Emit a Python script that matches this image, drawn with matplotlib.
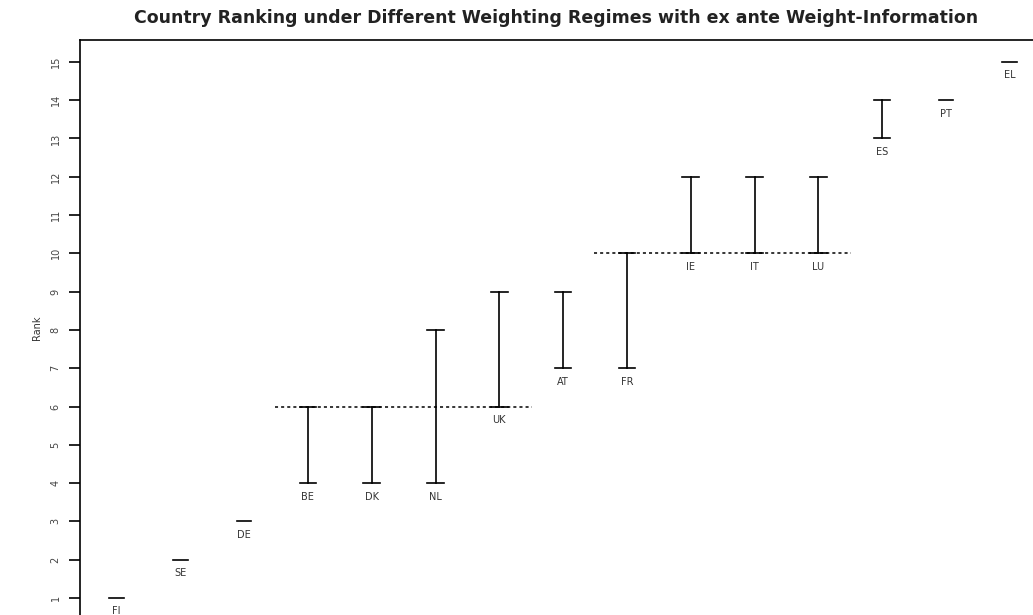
import numpy as np
import matplotlib.pyplot as plt

# Rank ranges per country (best and worst rank across weighting regimes)
countries = ["FI", "SE", "DE", "BE", "DK", "NL", "UK", "AT", "FR",
             "IE", "IT", "LU", "ES", "PT", "EL"]
rank_low = [1, 2, 3, 4, 4, 4, 6, 7, 7, 10, 10, 10, 13, 14, 15]
rank_high = [1, 2, 3, 6, 6, 8, 9, 9, 10, 12, 12, 12, 14, 14, 15]

# dotted reference lines: (level, first country, last country)
groups = [(6, "BE", "UK"), (10, "FR", "LU")]

fig = plt.figure(figsize=(10.33, 6.15), dpi=100)
ax = fig.add_axes([80 / 1033, 0.0, 1 - 80 / 1033, 1 - 40 / 615])

x = np.arange(1, len(countries) + 1)
cap = 0.13
for xi, lo, hi, name in zip(x, rank_low, rank_high, countries):
    if hi > lo:
        ax.plot([xi, xi], [lo, hi], color="black", lw=1.2)
        ax.plot([xi - cap, xi + cap], [lo, lo], color="black", lw=1.2)
        ax.plot([xi - cap, xi + cap], [hi, hi], color="black", lw=1.2)
    else:
        ax.plot([xi - 0.115, xi + 0.115], [lo, lo], color="black", lw=1.2)
    ax.text(xi, lo - 0.22, name, ha="center", va="top", fontsize=7,
            color="#333333")

for level, a, b in groups:
    i0 = countries.index(a) + 1
    i1 = countries.index(b) + 1
    ax.plot([i0 - 0.51, i1 + 0.52], [level, level], color="black", lw=1.1,
            linestyle=(0, (2, 2)))

ax.set_xlim(0.428, 15.365)
ax.set_ylim(0.556, 15.57)
ax.set_yticks(range(1, 16))
ax.set_yticklabels([str(i) for i in range(1, 16)], rotation=90,
                   va="center", fontsize=7, color="#444444")
ax.tick_params(axis="y", direction="out", length=8, width=1.2, pad=6)
ax.set_xticks([])
ax.spines["right"].set_visible(False)
ax.spines["bottom"].set_visible(False)
ax.spines["left"].set_linewidth(1.2)
ax.spines["top"].set_linewidth(1.2)
ax.set_ylabel("Rank", fontsize=7, color="#333333", labelpad=6)

fig.text(556 / 1033, 1 - 18 / 615,
         "Country Ranking under Different Weighting Regimes with ex ante Weight-Information",
         ha="center", va="center", fontsize=12.5, fontweight="bold",
         color="#222222")

fig.savefig("out.png", dpi=100)
